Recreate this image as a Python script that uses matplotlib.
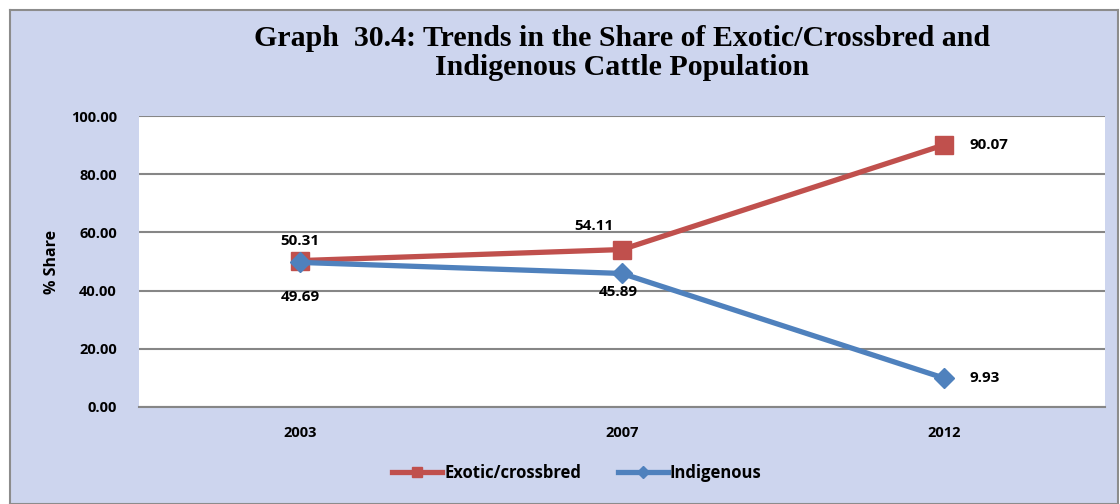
import numpy as np
import matplotlib.pyplot as plt

years = ['2003', '2007', '2012']
exotic = [50.31, 54.11, 90.07]
indigenous = [49.69, 45.89, 9.93]
yticks = [0, 20, 40, 60, 80, 100]

red = '#C0504D'
blue = '#4F81BD'
lab_font = 'Open Sans'

fig = plt.figure(figsize=(11.2, 5.04), dpi=100)
fig.patch.set_facecolor('white')

# chart area background with border
bg = fig.add_axes([10 / 1120, 0, 1108 / 1120, 494 / 504], zorder=-1)
bg.set_facecolor('#cdd5ee')
bg.set_xticks([])
bg.set_yticks([])
for s in bg.spines.values():
    s.set_color('#8c8c8c')
    s.set_linewidth(1.5)

ax = fig.add_axes([139 / 1120, 1 - 407 / 504, 966 / 1120, 291 / 504], zorder=1)
ax.set_facecolor('white')

x = np.arange(len(years)) + 0.5
ax.plot(x, exotic, color=red, lw=3.8, marker='s', ms=13, zorder=3, label='Exotic/crossbred')
ax.plot(x, indigenous, color=blue, lw=3.8, marker='D', ms=10, zorder=4, label='Indigenous')

ax.set_xlim(0, 3)
ax.set_ylim(0, 100)
ax.set_yticks(yticks)
ax.set_yticklabels(['%.2f' % v for v in yticks], fontsize=10.5, fontweight='bold', family=lab_font)
ax.set_xticks(x)
ax.set_xticklabels(years, fontsize=10.5, fontweight='bold', family=lab_font)
ax.tick_params(length=0, pad=14)
ax.tick_params(axis='y', pad=16)
ax.grid(axis='y', color='#868686', lw=1.5)
ax.set_axisbelow(True)
for s in ['left', 'right', 'top']:
    ax.spines[s].set_visible(False)
ax.spines['bottom'].set_color('#868686')
ax.spines['bottom'].set_linewidth(1.5)

ax.set_ylabel('% Share', fontsize=11.5, fontweight='bold', family=lab_font, labelpad=8)

# data labels
lab_kw = dict(fontsize=11, fontweight='bold', family=lab_font, textcoords='offset points')
ax.annotate('%.2f' % exotic[0], (x[0], exotic[0]), xytext=(0, 14), ha='center', va='center', **lab_kw)
ax.annotate('%.2f' % exotic[1], (x[1], exotic[1]), xytext=(-20, 17), ha='center', va='center', **lab_kw)
ax.annotate('%.2f' % exotic[2], (x[2], exotic[2]), xytext=(18, 0), ha='left', va='center', **lab_kw)
ax.annotate('%.2f' % indigenous[0], (x[0], indigenous[0]), xytext=(0, -25), ha='center', va='center', **lab_kw)
ax.annotate('%.2f' % indigenous[1], (x[1], indigenous[1]), xytext=(-3, -13), ha='center', va='center', **lab_kw)
ax.annotate('%.2f' % indigenous[2], (x[2], indigenous[2]), xytext=(18, 0), ha='left', va='center', **lab_kw)

fig.text(0.555, 1 - 53 / 504, 'Graph  30.4: Trends in the Share of Exotic/Crossbred and\nIndigenous Cattle Population',
         ha='center', va='center', fontsize=21.5, fontweight='bold', family='Liberation Serif',
         linespacing=1.08)

fig.legend(loc='center', bbox_to_anchor=(0.515, 1 - 473 / 504), ncol=2, frameon=False,
           prop={'family': lab_font, 'weight': 'bold', 'size': 12}, markerscale=0.6,
           handlelength=3.0, columnspacing=2.2, handletextpad=0.1)

fig.savefig('out.png', dpi=100, facecolor=fig.get_facecolor())
